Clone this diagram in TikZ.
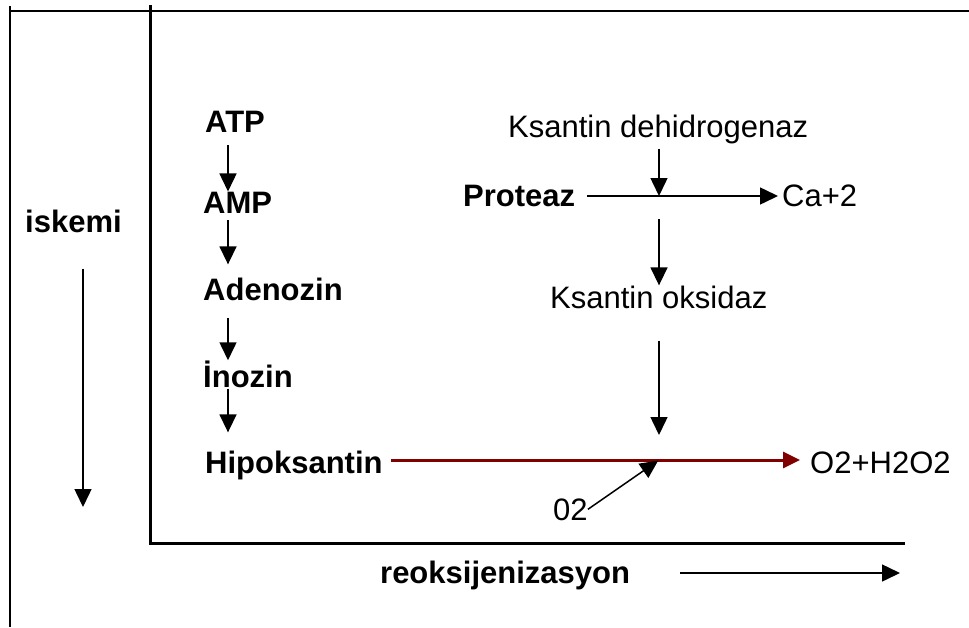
\documentclass[tikz,border=0pt]{standalone}
\usepackage{fontspec}
\setmainfont{Liberation Sans}
\usetikzlibrary{arrows.meta}
\definecolor{maroonline}{RGB}{128,0,0}
\begin{document}
\begin{tikzpicture}[x=1pt,y=-1pt,
  lbl/.style={inner sep=0pt, anchor=base west, font=\fontsize{31}{36}\selectfont},
  blbl/.style={lbl, font=\fontsize{31}{36}\selectfont\bfseries},
  arr/.style={line width=1.5pt, -{Triangle[length=18pt,width=17pt]}},
  redarr/.style={line width=3pt, draw=maroonline, -{Triangle[length=17pt,width=16pt]}, color=maroonline},
  frameline/.style={line width=2pt},
  axisline/.style={line width=3pt}]
\useasboundingbox (0,0) rectangle (969,627);
\fill[white] (0,0) rectangle (969,627);
% frame and axes
\draw[frameline] (10,11) -- (969,11);
\draw[frameline] (10,6) -- (10,627);
\draw[axisline] (150,5) -- (150,543) -- (905,543);
% left column
\node[blbl] (ATP) at (205,132) {ATP};
\node[blbl] (AMP) at (203,213) {AMP};
\node[blbl] (Ade) at (203,300) {Adenozin};
\node[blbl] (Ino) at (203,387) {İnozin};
\node[blbl] (Hip) at (205,473) {Hipoksantin};
\node[blbl] (isk) at (25,232) {iskemi};
% right column
\node[lbl] (KDH) at (508,137) {Ksantin dehidrogenaz};
\node[blbl] (Pro) at (463,206) {Proteaz};
\node[lbl] (Ca) at (782,206) {Ca+2};
\node[lbl] (KO) at (550,308) {Ksantin oksidaz};
\node[lbl] (OH) at (810,473) {O2+H2O2};
\node[lbl] (Oz) at (553,520) {02};
\node[blbl] (reo) at (380,583) {reoksijenizasyon};
% helper coordinates
\coordinate (colA) at (228,0);
\coordinate (J1) at (659,196);
\coordinate (J2) at (659,460);
\coordinate (iskEnd) at (83,507);
\coordinate (reoEnd) at (900,573);
% left chain
\draw[arr, shorten <=13pt] (ATP.south -| colA) -- (AMP.north -| colA);
\draw[arr, shorten <=7pt, shorten >=13pt] (AMP.south -| colA) -- (Ade.north -| colA);
\draw[arr, shorten <=17pt] (Ade.south -| colA) -- (Ino.north -| colA);
\draw[arr, shorten <=1pt, shorten >=18pt] (Ino.south -| colA) -- (Hip.north -| colA);
% right side
\draw[arr, shorten <=5pt] (KDH.south -| J1) -- (J1);
\draw[arr, shorten <=12pt, shorten >=4pt] (Pro.east |- J1) -- (Ca.west |- J1);
\draw[arr, shorten <=23pt] (J1) -- (KO.north -| J1);
\draw[arr, shorten <=32pt, shorten >=25pt] (KO.south -| J1) -- (J2);
\draw[redarr, shorten <=8pt, shorten >=10pt] (Hip.east |- J2) -- (OH.west |- J2);
\draw[arr, shorten >=1pt] (Oz.east) -- (J2);
% axis arrows
\draw[arr, shorten <=36pt] (isk.south -| iskEnd) -- (iskEnd);
\draw[arr, shorten <=50pt] (reo.east |- reoEnd) -- (reoEnd);
\end{tikzpicture}
\end{document}
